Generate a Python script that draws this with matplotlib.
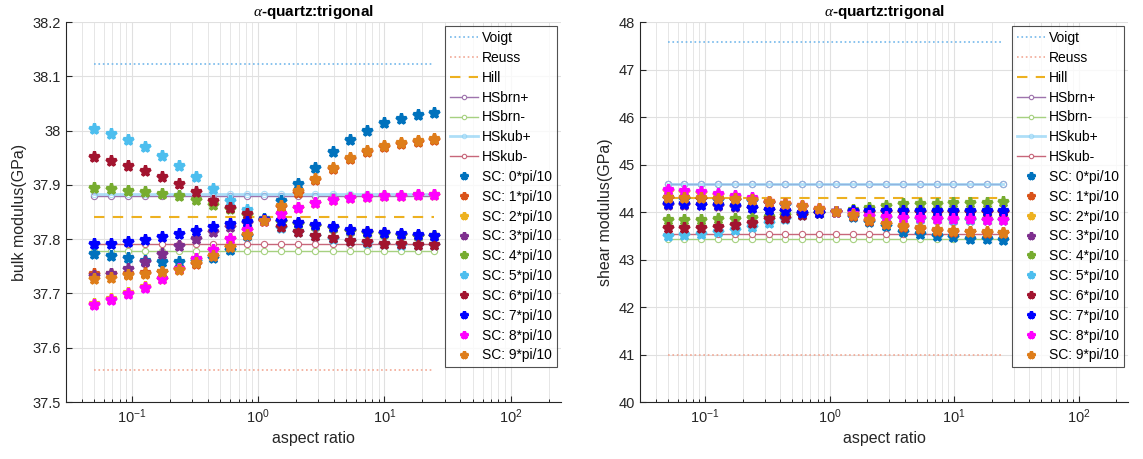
import numpy as np
import matplotlib
matplotlib.use("Agg")
import matplotlib.pyplot as plt
from matplotlib.ticker import FuncFormatter, LogLocator, NullFormatter

plt.rcParams['font.family'] = ['Liberation Sans', 'DejaVu Sans']
plt.rcParams['mathtext.fontset'] = 'custom'
plt.rcParams['mathtext.it'] = 'Liberation Serif:italic'

aspect = [0.05, 0.0682, 0.0931, 0.1271, 0.1734, 0.2366, 0.3229, 0.4406, 0.6013,
          0.8205, 1.1197, 1.528, 2.085, 2.845, 3.883, 5.298, 7.230, 9.866,
          13.46, 18.37, 24.5]

labels_sc = ["SC: %d*pi/10" % k for k in range(10)]

# ---- bulk modulus (GPa) ----
bulk_voigt = 38.122
bulk_reuss = 37.560
bulk_hill = 37.841
bulk_hsbrn_p = 37.880
bulk_hsbrn_m = 37.778
bulk_hskub_p = 37.884
bulk_hskub_m = 37.792

bulk_sc0 = [37.772, 37.769, 37.765, 37.760, 37.758, 37.758, 37.760, 37.766, 37.780, 37.805, 37.838,
            37.870, 37.902, 37.932, 37.961, 37.983, 38.000, 38.014, 38.022, 38.029, 38.032]
bulk_sc1 = [37.735, 37.736, 37.736, 37.737, 37.740, 37.745, 37.755, 37.769, 37.785, 37.807, 37.833,
            37.860, 37.886, 37.909, 37.930, 37.947, 37.960, 37.970, 37.976, 37.979, 37.983]
bulk_sc2 = [37.680, 37.689, 37.700, 37.712, 37.727, 37.745, 37.763, 37.781, 37.800, 37.817, 37.834,
            37.846, 37.858, 37.867, 37.872, 37.875, 37.878, 37.880, 37.880, 37.881, 37.881]
bulk_sc3 = [37.733, 37.735, 37.745, 37.758, 37.772, 37.787, 37.800, 37.814, 37.822, 37.829, 37.834,
            37.833, 37.829, 37.825, 37.821, 37.816, 37.813, 37.811, 37.808, 37.806, 37.805]
bulk_sc4 = [37.894, 37.892, 37.889, 37.887, 37.884, 37.879, 37.872, 37.863, 37.855, 37.845, 37.835,
            37.832, 37.828, 37.824, 37.820, 37.815, 37.812, 37.810, 37.808, 37.806, 37.805]
bulk_sc5 = [38.003, 37.993, 37.983, 37.969, 37.953, 37.934, 37.915, 37.893, 37.871, 37.853, 37.835,
            37.821, 37.813, 37.805, 37.801, 37.796, 37.793, 37.791, 37.790, 37.789, 37.789]
bulk_sc6 = [37.951, 37.944, 37.935, 37.926, 37.915, 37.901, 37.887, 37.871, 37.858, 37.846, 37.835,
            37.822, 37.814, 37.806, 37.802, 37.797, 37.794, 37.792, 37.791, 37.789, 37.789]
bulk_sc7 = [37.791, 37.792, 37.795, 37.799, 37.804, 37.810, 37.816, 37.823, 37.828, 37.832, 37.835,
            37.834, 37.830, 37.826, 37.822, 37.817, 37.814, 37.812, 37.809, 37.807, 37.806]
bulk_sc8 = [37.679, 37.688, 37.699, 37.711, 37.726, 37.745, 37.763, 37.781, 37.800, 37.817, 37.834,
            37.846, 37.858, 37.867, 37.872, 37.875, 37.878, 37.880, 37.880, 37.881, 37.881]
bulk_sc9 = [37.727, 37.729, 37.734, 37.736, 37.740, 37.744, 37.756, 37.769, 37.786, 37.808, 37.833,
            37.862, 37.888, 37.911, 37.932, 37.949, 37.962, 37.972, 37.978, 37.981, 37.985]

# ---- shear modulus (GPa) ----
shear_voigt = 47.58
shear_reuss = 41.00
shear_hill = 44.29
shear_hsbrn_p = 44.60
shear_hsbrn_m = 43.44
shear_hskub_p = 44.60
shear_hskub_m = 43.53

shear_sc0 = [44.29, 44.28, 44.27, 44.26, 44.25, 44.24, 44.20, 44.15, 44.10, 44.05, 44.00,
             43.90, 43.80, 43.70, 43.59, 43.54, 43.50, 43.47, 43.44, 43.43, 43.41]
shear_sc1 = [44.29, 44.29, 44.28, 44.27, 44.26, 44.25, 44.20, 44.16, 44.11, 44.05, 44.00,
             43.92, 43.82, 43.74, 43.69, 43.65, 43.61, 43.59, 43.57, 43.56, 43.56]
shear_sc2 = [44.44, 44.43, 44.41, 44.36, 44.32, 44.28, 44.21, 44.16, 44.11, 44.06, 44.00,
             43.95, 43.91, 43.88, 43.87, 43.86, 43.85, 43.84, 43.84, 43.83, 43.83]
shear_sc3 = [44.15, 44.15, 44.14, 44.13, 44.11, 44.08, 44.04, 44.02, 43.98, 43.98, 44.00,
             44.02, 44.01, 44.02, 44.01, 44.01, 44.01, 44.01, 44.01, 44.01, 44.01]
shear_sc4 = [43.84, 43.84, 43.84, 43.85, 43.86, 43.87, 43.90, 43.93, 43.96, 43.98, 44.00,
             44.04, 44.08, 44.12, 44.16, 44.17, 44.18, 44.19, 44.20, 44.20, 44.21]
shear_sc5 = [43.495, 43.51, 43.54, 43.57, 43.62, 43.69, 43.78, 43.86, 43.93, 43.97, 44.00,
             43.95, 43.91, 43.88, 43.87, 43.86, 43.85, 43.84, 43.84, 43.83, 43.83]
shear_sc6 = [43.655, 43.66, 43.67, 43.69, 43.72, 43.76, 43.845, 43.88, 43.94, 43.98, 44.00,
             44.01, 44.01, 44.01, 44.01, 44.01, 44.01, 44.01, 44.01, 44.01, 44.01]
shear_sc7 = [44.16, 44.16, 44.15, 44.14, 44.12, 44.09, 44.05, 44.03, 43.99, 43.99, 44.00,
             44.03, 44.02, 44.03, 44.02, 44.02, 44.02, 44.02, 44.02, 44.02, 44.02]
shear_sc8 = [44.455, 44.44, 44.42, 44.37, 44.33, 44.29, 44.22, 44.17, 44.12, 44.07, 44.00,
             43.96, 43.92, 43.89, 43.88, 43.87, 43.86, 43.85, 43.85, 43.84, 43.84]
shear_sc9 = [44.30, 44.30, 44.29, 44.28, 44.27, 44.26, 44.21, 44.17, 44.12, 44.06, 44.00,
             43.93, 43.83, 43.75, 43.70, 43.66, 43.62, 43.60, 43.58, 43.57, 43.56]

bulk_sc = [bulk_sc0, bulk_sc1, bulk_sc2, bulk_sc3, bulk_sc4, bulk_sc5, bulk_sc6, bulk_sc7, bulk_sc8, bulk_sc9]
shear_sc = [shear_sc0, shear_sc1, shear_sc2, shear_sc3, shear_sc4, shear_sc5, shear_sc6, shear_sc7, shear_sc8, shear_sc9]

sc_colors = [(0.0, 0.447, 0.741), (0.85, 0.325, 0.098), (0.929, 0.694, 0.125),
             (0.494, 0.184, 0.556), (0.466, 0.674, 0.188), (0.301, 0.745, 0.933),
             (0.635, 0.078, 0.184), (0.0, 0.0, 1.0), (1.0, 0.0, 1.0), (0.87, 0.49, 0.10)]

c_voigt = (0.45, 0.72, 0.92)
c_reuss = (0.95, 0.66, 0.58)
c_hill = (0.929, 0.694, 0.125)
c_hsbrn_p = (0.62, 0.45, 0.68)
c_hsbrn_m = (0.65, 0.82, 0.50)
c_hskub_p = (0.55, 0.82, 0.96)
c_hskub_m = (0.78, 0.40, 0.48)


def draw(ax, voigt, reuss, hill, hsbp, hsbm, hskp, hskm, sc, ylim, yticks, ylabel):
    n = len(aspect)
    ax.plot(aspect, [voigt] * n, ':', color=c_voigt, lw=1.2, label='Voigt')
    ax.plot(aspect, [reuss] * n, ':', color=c_reuss, lw=1.2, label='Reuss')
    ax.plot(aspect, [hill] * n, '--', color=c_hill, lw=1.5, dashes=(5, 4), label='Hill')
    ax.plot(aspect, [hsbp] * n, '-o', color=c_hsbrn_p, lw=1.0, ms=4.5, mfc='white', mew=0.8, label='HSbrn+')
    ax.plot(aspect, [hsbm] * n, '-o', color=c_hsbrn_m, lw=1.0, ms=4.5, mfc='white', mew=0.8, label='HSbrn-')
    ax.plot(aspect, [hskp] * n, '-o', color=c_hskub_p, lw=2.0, ms=4.5, mfc='none', mew=0.8, alpha=0.7, label='HSkub+')
    ax.plot(aspect, [hskm] * n, '-o', color=c_hskub_m, lw=1.0, ms=4.5, mfc='white', mew=0.8, label='HSkub-')
    for k in range(10):
        ax.plot(aspect, sc[k], linestyle='none', marker='*', ms=8, mew=2.3,
                color=sc_colors[k], mec=sc_colors[k], label=labels_sc[k])
    ax.set_xscale('log')
    ax.set_xlim(0.03, 250)
    ax.set_ylim(*ylim)
    ax.set_yticks(yticks)
    ax.yaxis.set_major_formatter(FuncFormatter(lambda v, p: '%g' % round(v, 4)))
    ax.xaxis.set_major_locator(LogLocator(base=10, numticks=10))
    ax.xaxis.set_minor_locator(LogLocator(base=10, subs=np.arange(2, 10), numticks=20))
    ax.xaxis.set_minor_formatter(NullFormatter())
    ax.grid(True, which='major', color=(0.88, 0.88, 0.88), lw=0.8)
    ax.grid(True, which='minor', axis='x', color=(0.9, 0.9, 0.9), lw=0.7)
    ax.set_axisbelow(True)
    ax.tick_params(direction='in', which='major', length=4, labelsize=10.5, colors=(0.15, 0.15, 0.15))
    ax.tick_params(direction='in', which='minor', length=2)
    ax.tick_params(top=False, right=False)
    ax.tick_params(which='minor', top=False, right=False)
    for s in ['top', 'right']:
        ax.spines[s].set_visible(False)
    for s in ['left', 'bottom']:
        ax.spines[s].set_color((0.15, 0.15, 0.15))
    ax.set_xlabel('aspect ratio', fontsize=11.5, color=(0.15, 0.15, 0.15))
    ax.set_ylabel(ylabel, fontsize=11.5, color=(0.15, 0.15, 0.15))
    ax.set_title(r'$\alpha$-quartz:trigonal', fontsize=11, fontweight='bold', pad=4)
    leg = ax.legend(loc='upper right', fontsize=10, frameon=True, fancybox=False,
                    edgecolor=(0.15, 0.15, 0.15), labelspacing=0.42, handlelength=2.0,
                    handletextpad=0.3, borderpad=0.35, borderaxespad=0.3, markerscale=0.7)
    leg.get_frame().set_linewidth(0.8)


fig = plt.figure(figsize=(11.43, 4.59), dpi=100)
ax1 = fig.add_axes([0.0577, 0.124, 0.433, 0.828])
ax2 = fig.add_axes([0.560, 0.124, 0.427, 0.828])

draw(ax1, bulk_voigt, bulk_reuss, bulk_hill, bulk_hsbrn_p, bulk_hsbrn_m, bulk_hskub_p, bulk_hskub_m,
     bulk_sc, (37.5, 38.2), np.round(np.arange(37.5, 38.21, 0.1), 1), 'bulk modulus(GPa)')
draw(ax2, shear_voigt, shear_reuss, shear_hill, shear_hsbrn_p, shear_hsbrn_m, shear_hskub_p, shear_hskub_m,
     shear_sc, (40, 48), np.arange(40, 49, 1), 'shear modulus(GPa)')

fig.savefig('out.png', dpi=100)
